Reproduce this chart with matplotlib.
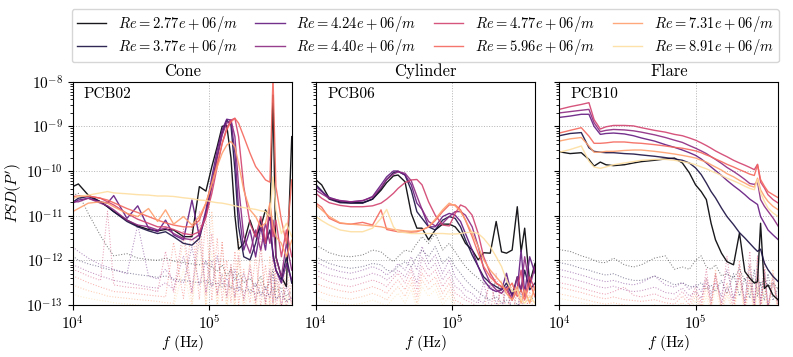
import numpy as np
import matplotlib
matplotlib.use('Agg')
import matplotlib.pyplot as plt
from matplotlib.ticker import NullLocator

plt.rcParams['font.family'] = 'serif'
plt.rcParams['font.serif'] = ['cmr10']
plt.rcParams['mathtext.fontset'] = 'cm'
plt.rcParams['axes.formatter.use_mathtext'] = True
plt.rcParams['font.size'] = 11

# Reynolds numbers per unit length (legend)
re_labels = ['2.77e+06', '3.77e+06', '4.24e+06', '4.40e+06',
             '4.77e+06', '5.96e+06', '7.31e+06', '8.91e+06']
panel_titles = ['Cone', 'Cylinder', 'Flare']
sensor_names = ['PCB02', 'PCB06', 'PCB10']

# ---------------- Cone / PCB02 ----------------
cone_f = [1.0e4, 1.1e4, 1.3e4, 1.6e4, 1.8e4, 2.0e4, 2.5e4, 3.0e4, 3.6e4, 4.2e4,
          4.8e4, 5.5e4, 6.5e4, 7.5e4, 8.5e4, 9.5e4, 1.05e5, 1.15e5, 1.25e5, 1.35e5,
          1.45e5, 1.55e5, 1.65e5, 1.8e5, 2.0e5, 2.2e5, 2.4e5, 2.6e5, 2.8e5, 2.95e5,
          3.1e5, 3.4e5, 3.7e5, 4.05e5]
# log10 of the PSD, one row per Re
cone_log_psd = [
    [-10.35, -10.29, -10.54, -10.69, -10.8, -10.91, -11.1, -11.23, -11.31, -11.34,
     -11.31, -11.32, -11.47, -11.47, -10.35, -10.45, -9.9, -9.45, -9.0, -8.98,
     -9.7, -11.0, -11.75, -11.62, -11.1, -11.47, -11.25, -10.87, -11.1, -8.3,
     -11.92, -12.37, -12.59, -9.23],
    [-10.7, -10.61, -10.57, -10.69, -10.8, -10.91, -11.13, -11.25, -11.34, -11.4,
     -11.36, -11.47, -11.62, -11.66, -11.51, -10.95, -10.28, -9.68, -9.16, -8.86,
     -8.97, -9.98, -11.25, -11.92, -11.99, -11.62, -11.1, -11.62, -11.32, -11.84,
     -12.22, -12.44, -11.92, -12.51],
    [-10.72, -10.65, -10.61, -10.69, -10.72, -10.55, -11.06, -10.78, -11.28, -11.36,
     -11.1, -11.43, -11.54, -10.65, -11.47, -10.87, -10.13, -9.53, -9.08, -8.84,
     -8.86, -9.6, -10.87, -11.77, -11.32, -11.92, -11.25, -11.77, -10.87, -11.92,
     -12.22, -12.51, -12.07, -12.44],
    [-10.69, -10.69, -10.61, -10.72, -10.78, -10.87, -11.1, -11.21, -11.25, -11.32,
     -11.28, -11.4, -11.51, -11.54, -11.43, -11.02, -10.35, -9.68, -9.19, -8.93,
     -8.86, -9.23, -10.35, -11.47, -11.84, -11.32, -11.77, -11.17, -11.62, -11.1,
     -11.92, -12.37, -11.62, -12.22],
    [-10.61, -10.57, -10.56, -10.61, -10.69, -10.76, -10.95, -11.08, -11.17, -11.25,
     -11.25, -11.31, -11.4, -11.43, -11.36, -11.02, -10.5, -9.9, -9.38, -9.04,
     -8.86, -8.82, -9.23, -10.35, -11.17, -11.47, -11.02, -11.62, -10.72, -11.47,
     -11.1, -11.92, -11.32, -11.92],
    [-10.57, -10.56, -10.56, -10.61, -10.65, -10.71, -10.84, -10.93, -11.02, -11.1,
     -11.16, -11.21, -11.25, -11.25, -11.1, -10.72, -10.28, -9.83, -9.38, -9.08,
     -8.9, -8.82, -8.93, -9.23, -9.6, -9.9, -10.05, -10.2, -10.25, -7.9,
     -10.35, -11.1, -11.62, -10.2],
    [-10.91, -10.84, -10.72, -10.69, -10.72, -10.8, -10.95, -11.02, -10.84, -11.13,
     -10.87, -11.19, -11.02, -11.21, -11.02, -10.72, -10.28, -9.9, -9.6, -9.42,
     -9.34, -9.46, -9.83, -10.43, -10.87, -11.02, -11.25, -11.17, -10.72, -11.25,
     -11.47, -11.62, -11.92, -11.55],
    [-10.61, -10.57, -10.54, -10.49, -10.46, -10.49, -10.51, -10.53, -10.54, -10.56,
     -10.56, -10.57, -10.6, -10.62, -10.65, -10.66, -10.69, -10.71, -10.72, -10.74,
     -10.76, -10.78, -10.8, -10.82, -10.84, -10.86, -10.89, -10.91, -11.02, -10.13,
     -10.87, -11.4, -11.17, -11.47],
]
cone_log_floor = [
    [-10.55, -10.5, -10.95, -11.45, -11.7, -11.9, -11.85, -11.95, -11.98, -12.0,
     -11.95, -12.02, -12.05, -12.08, -12.1, -12.05, -12.15, -12.25, -12.1, -12.35,
     -12.2, -12.45, -12.3, -12.5, -12.4, -12.6, -12.35, -12.65, -12.5, -12.2,
     -12.7, -12.6, -12.8, -12.7],
    [-11.9, -12.0, -12.08, -12.15, -12.2, -12.22, -12.28, -12.32, -12.35, -12.38,
     -12.35, -12.42, -12.45, -12.48, -12.5, -12.45, -12.55, -12.5, -12.6, -12.55,
     -12.6, -12.65, -12.6, -12.7, -12.65, -12.75, -12.7, -12.8, -12.75, -12.6,
     -12.85, -12.8, -12.9, -12.85],
    [-11.7, -11.8, -11.95, -12.1, -12.15, -12.2, -12.3, -11.2, -12.35, -12.42,
     -12.2, -12.45, -12.5, -11.7, -12.55, -12.0, -12.6, -11.9, -12.55, -12.4,
     -12.65, -12.2, -12.7, -12.3, -12.75, -12.5, -12.8, -12.6, -12.85, -12.3,
     -12.9, -12.7, -12.95, -12.8],
    [-12.1, -12.15, -12.25, -12.35, -12.4, -12.45, -12.5, -12.55, -12.6, -12.62,
     -12.5, -12.65, -11.9, -12.7, -11.5, -12.72, -12.0, -12.75, -12.3, -12.8,
     -12.1, -12.82, -12.4, -12.85, -12.2, -12.9, -12.5, -12.92, -12.2, -12.95,
     -12.4, -13.0, -12.6, -12.95],
    [-12.2, -12.25, -12.35, -12.45, -10.9, -12.55, -12.6, -12.62, -12.65, -12.7,
     -11.8, -12.72, -11.3, -12.75, -10.9, -12.78, -11.4, -12.8, -11.6, -12.85,
     -12.2, -12.88, -11.9, -12.9, -12.1, -12.95, -11.7, -13.0, -12.3, -12.95,
     -12.0, -13.05, -12.4, -13.0],
    [-12.35, -12.4, -12.5, -12.6, -12.65, -12.7, -12.72, -12.75, -12.78, -12.8,
     -12.82, -11.6, -12.85, -11.2, -12.88, -11.0, -12.9, -11.5, -12.92, -12.0,
     -12.95, -11.8, -13.0, -12.2, -12.95, -11.9, -13.05, -12.1, -13.0, -11.8,
     -13.1, -12.3, -13.05, -12.5],
    [-12.55, -12.6, -12.68, -12.75, -12.8, -12.82, -12.85, -12.88, -12.9, -12.92,
     -12.95, -12.96, -11.5, -12.98, -11.1, -13.0, -10.9, -13.02, -11.6, -13.05,
     -12.1, -13.08, -11.5, -13.1, -12.0, -13.1, -11.4, -13.15, -11.9, -13.1,
     -12.2, -13.15, -12.0, -13.1],
    [-12.75, -12.8, -12.85, -12.9, -12.92, -12.95, -12.98, -13.0, -13.02, -13.05,
     -13.05, -13.05, -12.2, -13.1, -11.6, -13.1, -11.8, -13.1, -12.3, -13.1,
     -12.5, -13.15, -12.0, -13.15, -12.6, -13.15, -12.4, -13.2, -12.8, -13.2,
     -12.5, -13.2, -12.8, -13.2],
]

# ---------------- Cylinder / PCB06 ----------------
cyl_f = [1.0e4, 1.1e4, 1.25e4, 1.5e4, 1.8e4, 2.2e4, 2.6e4, 3.0e4, 3.3e4, 3.7e4,
         4.0e4, 4.5e4, 5.0e4, 5.5e4, 6.0e4, 6.7e4, 7.5e4, 8.5e4, 9.5e4, 1.05e5,
         1.15e5, 1.25e5, 1.4e5, 1.55e5, 1.7e5, 1.9e5, 2.1e5, 2.3e5, 2.5e5, 2.75e5,
         3.0e5, 3.2e5, 3.4e5, 3.7e5, 4.05e5]
cyl_log_psd = [
    [-10.2, -10.31, -10.61, -10.69, -10.71, -10.71, -10.63, -10.43, -10.26, -10.11,
     -10.09, -10.24, -10.95, -11.28, -11.28, -11.54, -11.32, -11.19, -11.19, -11.25,
     -11.4, -11.62, -11.77, -11.99, -11.83, -11.84, -11.13, -11.81, -11.84, -11.77,
     -10.8, -11.81, -11.28, -12.51, -12.07],
    [-10.31, -10.44, -10.63, -10.71, -10.72, -10.72, -10.63, -10.39, -10.19, -10.04,
     -10.01, -10.09, -10.43, -10.91, -11.06, -11.25, -11.32, -11.1, -11.02, -11.06,
     -11.25, -11.54, -11.88, -12.14, -12.37, -12.51, -12.59, -12.66, -12.51, -12.78,
     -12.37, -12.7, -12.22, -12.66, -12.51],
    [-10.35, -10.46, -10.59, -10.67, -10.69, -10.67, -10.57, -10.31, -10.13, -10.0,
     -10.0, -10.09, -10.31, -10.72, -10.86, -11.25, -11.25, -11.02, -10.95, -10.99,
     -11.13, -11.4, -11.77, -12.14, -12.44, -12.63, -12.7, -12.66, -12.29, -12.81,
     -12.66, -11.77, -12.74, -11.92, -12.29],
    [-10.43, -10.51, -10.61, -10.66, -10.69, -10.66, -10.59, -10.37, -10.19, -10.07,
     -10.02, -10.05, -10.22, -10.56, -10.86, -11.13, -11.23, -11.17, -11.02, -10.91,
     -10.91, -10.99, -11.25, -11.69, -12.18, -12.51, -12.66, -12.74, -12.59, -12.89,
     -12.37, -12.66, -11.92, -12.59, -12.14],
    [-10.5, -10.61, -10.71, -10.77, -10.8, -10.8, -10.78, -10.72, -10.63, -10.5,
     -10.39, -10.26, -10.2, -10.19, -10.31, -10.69, -10.99, -11.21, -11.23, -10.95,
     -10.76, -10.81, -10.99, -11.4, -11.92, -12.29, -12.51, -12.59, -12.66, -12.89,
     -12.66, -12.22, -12.81, -12.37, -12.66],
    [-10.72, -10.81, -11.06, -11.17, -11.19, -11.15, -11.21, -10.87, -11.31, -11.34,
     -11.36, -11.37, -11.37, -11.36, -11.32, -11.25, -11.11, -10.91, -10.76, -10.76,
     -10.87, -11.1, -11.47, -11.84, -12.14, -12.37, -12.51, -12.59, -12.66, -12.51,
     -12.81, -12.66, -12.89, -12.51, -12.81],
    [-10.76, -10.87, -11.02, -11.16, -11.19, -11.21, -11.23, -11.25, -11.28, -11.31,
     -11.32, -11.34, -11.35, -11.34, -11.32, -11.25, -11.08, -10.87, -10.72, -10.78,
     -10.91, -11.1, -11.4, -11.69, -11.99, -12.22, -12.37, -12.51, -12.74, -12.89,
     -12.59, -12.96, -12.66, -12.96, -12.59],
    [-11.02, -11.11, -11.21, -11.32, -11.36, -11.36, -11.28, -11.06, -10.86, -11.25,
     -11.36, -11.38, -11.4, -11.4, -11.4, -11.4, -11.4, -11.4, -11.41, -11.41,
     -11.4, -11.38, -11.37, -11.4, -11.51, -11.69, -11.92, -12.14, -12.44, -12.7,
     -12.66, -12.89, -12.96, -12.81, -12.96],
]
cyl_log_floor = [
    [-11.66, -11.73, -11.83, -11.9, -11.92, -11.88, -11.77, -11.81, -11.92, -12.03,
     -11.92, -11.77, -11.81, -11.62, -11.47, -11.62, -11.4, -11.77, -11.62, -11.81,
     -11.99, -12.14, -12.29, -12.4, -12.51, -12.59, -12.51, -12.66, -12.59, -12.74,
     -12.66, -12.81, -12.74, -12.89, -12.81],
    [-11.92, -11.99, -12.07, -12.14, -12.18, -12.14, -12.07, -12.1, -12.22, -12.25,
     -12.14, -12.03, -12.14, -11.92, -11.77, -11.92, -11.69, -12.07, -11.92, -12.14,
     -12.29, -12.44, -12.59, -12.7, -12.81, -12.89, -12.81, -12.96, -12.89, -13.04,
     -12.96, -13.1, -13.04, -13.1, -13.07],
    [-12.03, -12.1, -12.18, -12.25, -12.29, -12.22, -12.14, -12.22, -12.33, -12.22,
     -12.07, -12.22, -11.92, -12.22, -11.69, -12.07, -11.88, -12.29, -11.99, -12.37,
     -12.51, -12.66, -12.74, -12.89, -12.96, -12.5, -12.96, -13.1, -12.6, -13.15,
     -13.1, -12.7, -13.1, -13.2, -13.15],
    [-12.22, -12.28, -12.33, -12.38, -12.43, -12.37, -12.29, -12.35, -12.44, -12.33,
     -12.22, -12.37, -12.14, -12.51, -11.92, -12.22, -12.07, -12.44, -12.22, -12.59,
     -12.66, -12.81, -12.89, -12.96, -12.5, -13.1, -13.04, -12.6, -13.1, -13.2,
     -12.7, -13.2, -13.2, -13.25, -13.2],
    [-12.33, -12.4, -12.48, -12.55, -12.59, -12.51, -12.44, -12.51, -12.59, -12.4,
     -12.29, -12.51, -12.22, -12.66, -12.14, -12.37, -12.22, -12.59, -12.37, -12.74,
     -12.81, -12.89, -12.96, -13.04, -13.1, -13.18, -12.3, -13.2, -12.4, -13.25,
     -13.2, -13.25, -12.6, -13.3, -13.25],
    [-12.51, -12.57, -12.62, -12.68, -12.72, -12.66, -12.59, -12.66, -12.74, -12.55,
     -12.44, -12.66, -12.37, -12.81, -12.29, -12.51, -12.37, -12.74, -12.51, -12.89,
     -12.96, -13.04, -13.1, -13.18, -13.2, -12.3, -13.2, -13.3, -13.25, -12.5,
     -13.3, -13.3, -13.3, -12.7, -13.3],
    [-12.66, -12.72, -12.78, -12.83, -12.87, -12.81, -12.74, -12.81, -12.89, -12.7,
     -12.59, -12.81, -12.51, -12.96, -12.44, -12.66, -12.51, -12.89, -12.66, -13.0,
     -13.1, -13.15, -13.2, -13.25, -13.3, -13.3, -13.3, -12.45, -13.3, -13.35,
     -12.6, -13.35, -13.35, -13.4, -13.35],
    [-12.81, -12.87, -12.92, -12.96, -13.0, -12.96, -12.89, -12.96, -13.02, -12.85,
     -12.74, -12.96, -12.66, -13.07, -12.59, -12.81, -12.66, -13.0, -12.81, -13.1,
     -13.2, -13.25, -13.3, -13.3, -13.35, -13.35, -13.35, -13.4, -13.35, -13.4,
     -13.4, -13.4, -13.4, -13.4, -13.4],
]

# ---------------- Flare / PCB10 ----------------
flare_f = [1.0e4, 1.2e4, 1.45e4, 1.65e4, 1.8e4, 2.0e4, 2.2e4, 2.5e4, 3.0e4, 3.5e4,
           4.0e4, 5.0e4, 6.0e4, 7.0e4, 8.0e4, 9.0e4, 1.0e5, 1.1e5, 1.2e5, 1.3e5,
           1.4e5, 1.55e5, 1.7e5, 1.9e5, 2.1e5, 2.3e5, 2.5e5, 2.7e5, 2.85e5, 3.0e5,
           3.2e5, 3.4e5, 3.7e5, 4.05e5]
flare_log_psd = [
    [-9.57, -9.61, -9.59, -9.74, -9.89, -9.8, -9.86, -9.88, -9.86, -9.82,
     -9.79, -9.76, -9.73, -9.71, -9.82, -10.04, -10.31, -10.46, -10.64, -11.17,
     -11.54, -11.84, -12.03, -12.1, -11.39, -12.25, -12.4, -12.51, -12.48, -11.17,
     -12.63, -12.55, -12.78, -12.89],
    [-9.21, -9.16, -9.14, -9.48, -9.56, -9.58, -9.59, -9.59, -9.61, -9.62,
     -9.64, -9.67, -9.7, -9.73, -9.76, -9.82, -9.93, -10.08, -10.27, -10.46,
     -10.6, -10.83, -11.02, -11.2, -11.38, -11.5, -11.62, -11.73, -11.8, -11.75,
     -12.06, -12.21, -12.36, -12.48],
    [-8.8, -8.77, -8.73, -8.73, -9.0, -9.18, -9.16, -9.15, -9.17, -9.21,
     -9.26, -9.33, -9.41, -9.47, -9.53, -9.59, -9.65, -9.73, -9.82, -9.91,
     -9.99, -10.1, -10.21, -10.33, -10.43, -10.53, -10.63, -10.7, -10.75, -11.02,
     -11.17, -11.32, -11.43, -11.54],
    [-8.7, -8.67, -8.64, -8.62, -8.92, -9.12, -9.09, -9.07, -9.08, -9.1,
     -9.13, -9.19, -9.25, -9.31, -9.36, -9.43, -9.49, -9.55, -9.61, -9.68,
     -9.74, -9.83, -9.92, -10.01, -10.1, -10.19, -10.28, -10.3, -10.25, -10.64,
     -10.79, -10.9, -11.05, -11.24],
    [-8.62, -8.56, -8.51, -8.47, -8.85, -9.06, -9.01, -8.98, -8.98, -8.99,
     -9.03, -9.09, -9.13, -9.18, -9.21, -9.26, -9.31, -9.37, -9.43, -9.49,
     -9.55, -9.62, -9.68, -9.76, -9.82, -9.87, -9.92, -9.97, -9.85, -10.25,
     -10.38, -10.53, -10.64, -10.72],
    [-9.15, -9.09, -9.03, -9.22, -9.38, -9.38, -9.37, -9.35, -9.35, -9.37,
     -9.38, -9.41, -9.44, -9.47, -9.49, -9.52, -9.55, -9.59, -9.64, -9.68,
     -9.73, -9.79, -9.85, -9.91, -9.97, -10.02, -10.07, -10.1, -9.86, -10.19,
     -10.34, -10.46, -10.53, -10.6],
    [-9.33, -9.28, -9.25, -9.44, -9.58, -9.58, -9.56, -9.56, -9.54, -9.53,
     -9.53, -9.56, -9.59, -9.62, -9.65, -9.68, -9.71, -9.76, -9.8, -9.86,
     -9.91, -9.98, -10.06, -10.13, -10.21, -10.27, -10.33, -10.36, -10.16, -10.42,
     -10.57, -10.68, -10.79, -10.87],
    [-9.58, -9.52, -9.44, -9.78, -9.91, -9.94, -9.91, -9.86, -9.82, -9.79,
     -9.76, -9.74, -9.74, -9.76, -9.79, -9.82, -9.86, -9.91, -9.95, -10.0,
     -10.04, -10.1, -10.16, -10.22, -10.28, -10.34, -10.39, -10.42, -10.19, -10.49,
     -10.68, -10.83, -10.94, -11.02],
]
flare_log_floor = [
    [-11.76, -11.8, -11.9, -11.95, -12.0, -12.05, -12.05, -11.95, -12.1, -12.15,
     -12.1, -11.95, -11.9, -12.2, -12.15, -12.2, -12.0, -11.9, -12.15, -12.2,
     -12.1, -12.35, -12.3, -12.4, -12.2, -12.45, -12.3, -12.5, -12.4, -12.55,
     -12.4, -12.6, -12.5, -12.65],
    [-12.05, -12.1, -12.18, -12.22, -12.26, -12.3, -12.33, -12.3, -12.4, -12.45,
     -12.45, -12.35, -12.45, -12.55, -12.5, -12.58, -12.6, -12.5, -12.65, -12.55,
     -12.7, -12.45, -12.75, -12.3, -12.8, -12.4, -12.85, -12.2, -12.8, -12.5,
     -12.9, -12.3, -12.9, -12.6],
    [-12.2, -12.26, -12.33, -12.38, -12.42, -12.45, -12.48, -12.45, -12.52, -12.55,
     -12.5, -12.35, -12.55, -12.6, -12.5, -12.65, -12.55, -12.7, -12.4, -12.75,
     -12.5, -12.8, -12.2, -12.85, -12.35, -12.9, -12.1, -12.95, -12.4, -12.9,
     -12.2, -13.0, -12.5, -12.95],
    [-12.35, -12.4, -12.47, -12.52, -12.56, -12.6, -12.62, -12.58, -12.66, -12.7,
     -12.68, -12.6, -12.72, -12.75, -12.62, -12.8, -12.7, -12.85, -12.5, -12.9,
     -12.3, -12.95, -12.6, -12.9, -12.1, -13.0, -12.45, -13.0, -11.9, -13.05,
     -12.3, -13.05, -12.4, -13.0],
    [-12.5, -12.55, -12.62, -12.67, -12.7, -12.74, -12.76, -12.7, -12.6, -12.78,
     -12.82, -12.75, -12.85, -12.88, -12.7, -12.9, -12.6, -12.95, -12.2, -13.0,
     -12.4, -13.0, -11.9, -13.05, -12.3, -13.05, -11.8, -13.1, -12.2, -13.1,
     -12.0, -13.1, -12.5, -13.1],
    [-12.6, -12.66, -12.72, -12.77, -12.8, -12.84, -12.86, -12.82, -12.88, -12.9,
     -12.92, -12.88, -12.95, -12.98, -12.8, -13.0, -12.7, -13.05, -12.4, -13.05,
     -12.3, -13.1, -12.5, -13.1, -12.0, -13.1, -12.4, -13.15, -11.9, -13.15,
     -12.2, -13.15, -12.3, -13.15],
    [-12.75, -12.8, -12.86, -12.9, -12.93, -12.96, -12.98, -12.95, -13.0, -13.02,
     -13.04, -13.0, -13.05, -13.06, -12.95, -13.08, -12.8, -13.1, -12.6, -13.1,
     -12.2, -13.15, -12.7, -13.15, -12.3, -13.2, -12.1, -13.2, -12.6, -13.2,
     -12.4, -13.2, -12.2, -13.2],
    [-12.85, -12.9, -12.95, -12.98, -13.0, -13.03, -13.05, -13.02, -13.06, -13.08,
     -13.1, -13.08, -13.1, -13.12, -13.0, -13.15, -12.9, -13.15, -12.8, -13.2,
     -12.6, -13.2, -12.8, -13.2, -12.5, -13.25, -12.6, -13.25, -12.4, -13.25,
     -12.7, -13.25, -12.5, -13.25],
]

freqs = [cone_f, cyl_f, flare_f]
psds = [cone_log_psd, cyl_log_psd, flare_log_psd]
floors = [cone_log_floor, cyl_log_floor, flare_log_floor]

# positions in the magma map picked to match the legend swatches
cmap_pos = [0.0, 0.12, 0.3, 0.4, 0.57, 0.68, 0.8, 0.93]
colors = plt.get_cmap('magma')(cmap_pos)

fig = plt.figure(figsize=(7.93, 3.57), dpi=100)
lefts = [0.0917, 0.3985, 0.7053]
axes = []
for i, left in enumerate(lefts):
    if i == 0:
        ax = fig.add_axes([left, 0.1457, 0.2762, 0.6255])
    else:
        ax = fig.add_axes([left, 0.1457, 0.2762, 0.6255], sharey=axes[0])
    axes.append(ax)

handles = []
for i, ax in enumerate(axes):
    f = np.array(freqs[i])
    for k in range(len(re_labels)):
        ax.plot(f, 10 ** np.array(floors[i][k]), ls=':', lw=0.75,
                color=colors[k], alpha=0.5)
    for k in range(len(re_labels)):
        line, = ax.plot(f, 10 ** np.array(psds[i][k]), lw=1.0,
                        color=colors[k], alpha=0.9,
                        label=rf'$Re = {re_labels[k]}/m$')
        if i == 0:
            handles.append(line)
    ax.set_xscale('log')
    ax.set_yscale('log')
    ax.set_xlim(1e4, 4.05e5)
    ax.set_ylim(1e-13, 1e-8)
    ax.xaxis.set_minor_locator(NullLocator())
    ax.grid(True, which='major', ls=':', color='0.7', lw=0.7)
    ax.set_title(panel_titles[i], fontsize=12, pad=4)
    ax.text(0.05, 0.975, sensor_names[i], transform=ax.transAxes,
            va='top', ha='left', fontsize=11)
    ax.set_xlabel(r'$f$ (Hz)', labelpad=0)
    if i > 0:
        ax.tick_params(labelleft=False)

axes[0].set_ylabel(r"$PSD(P')$", labelpad=2)

fig.legend(handles=handles, loc='upper center', ncol=4,
           bbox_to_anchor=(0.536, 0.982), fontsize=10.5, edgecolor='0.8',
           columnspacing=1.25, handlelength=2.0, labelspacing=0.2,
           borderpad=0.35, borderaxespad=0.2)

fig.savefig('out.png', dpi=100)
